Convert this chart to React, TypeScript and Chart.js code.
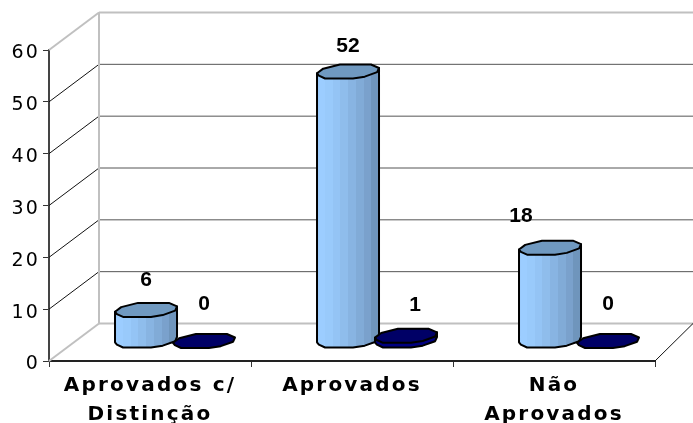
import React, { useEffect, useRef } from "react";
import { Chart, registerables } from "chart.js";

Chart.register(...registerables);

const categories: (string | string[])[] = [["Aprovados c/", "Distinção"], "Aprovados", ["Não", "Aprovados"]];
const seriesA = [6, 52, 18];
const seriesB = [0, 1, 0];
const yTicks = [0, 10, 20, 30, 40, 50, 60];

const depthX = 50;
const depthY = -37.5;
const barDepthX = 25;
const barDepthY = -13;
const barW = 62;
const barH = 14;
const labelGapA = [23, 18, 24];
const labelGapB = [30, 24, 30];
const labelShiftA = [0, 0, -29];
const labelShiftB = [0, 9, 0];

const frontEdge: [number, number][] = [[0, 0.37], [0.03, 0.2], [0.13, 0], [0.58, 0], [0.77, 0.13], [0.97, 0.45], [1, 0.75]];
const backEdge: [number, number][] = [[0.87, 1], [0.6, 1], [0.37, 1], [0.1, 0.7]];

const threeD = {
  id: "threeD",
  beforeDraw(chart: any) {
    chart.ctx.letterSpacing = "2.2px";
    const items = chart.scales.y.getLabelItems();
    if (!chart.$shifted) {
      items.forEach((it: any) => { it.options.translation[1] += 3.5; });
      chart.$shifted = true;
    }
  },
  beforeDatasetsDraw(chart: any) {
    const { ctx, scales, chartArea } = chart;
    const y = scales.y;
    const W = chart.width;
    const left = chartArea.left;
    const bx = left + depthX;
    ctx.save();
    yTicks.forEach((t) => {
      const py = y.getPixelForValue(t);
      const edge = t === 0 || t === 60;
      ctx.beginPath();
      ctx.moveTo(left, py);
      ctx.lineTo(bx, py + depthY);
      ctx.strokeStyle = edge ? "#c0c0c0" : "#111111";
      ctx.lineWidth = edge ? 2 : 1;
      ctx.stroke();
      ctx.beginPath();
      ctx.moveTo(bx, py + depthY);
      ctx.lineTo(W, py + depthY);
      ctx.strokeStyle = edge ? "#c0c0c0" : "#555555";
      ctx.lineWidth = edge ? 2 : 1;
      ctx.stroke();
    });
    ctx.beginPath();
    ctx.moveTo(bx, y.getPixelForValue(60) + depthY);
    ctx.lineTo(bx, y.getPixelForValue(0) + depthY);
    ctx.strokeStyle = "#c0c0c0";
    ctx.lineWidth = 2;
    ctx.stroke();
    const fy = y.getPixelForValue(0);
    ctx.beginPath();
    ctx.moveTo(chartArea.right, fy);
    ctx.lineTo(chartArea.right + 38, fy + depthY);
    ctx.strokeStyle = "#111111";
    ctx.lineWidth = 1;
    ctx.stroke();
    ctx.restore();
  },
  afterDatasetsDraw(chart: any) {
    const { ctx } = chart;
    const metaA = chart.getDatasetMeta(0).data;
    const metaB = chart.getDatasetMeta(1).data;
    const cyl = (el: any, dark: boolean) => {
      const x0 = el.x + barDepthX - barW / 2;
      const yb = el.base + barDepthY;
      const yt = el.y + barDepthY;
      const px = (p: [number, number], base: number): [number, number] => [x0 + p[0] * barW, base - p[1] * barH];
      ctx.save();
      ctx.lineJoin = "round";
      ctx.lineWidth = 2;
      ctx.strokeStyle = "#000000";
      if (yb - yt > 0.5) {
        ctx.beginPath();
        const s = px(frontEdge[0], yt);
        ctx.moveTo(s[0], s[1]);
        frontEdge.forEach((p) => ctx.lineTo(...px(p, yb)));
        const e = px(frontEdge[frontEdge.length - 1], yt);
        ctx.lineTo(e[0], e[1]);
        ctx.closePath();
        if (dark) {
          ctx.fillStyle = "#000080";
        } else {
          const g = ctx.createLinearGradient(x0, 0, x0 + barW, 0);
          const bands = ["#9ccdff", "#99caFb", "#94c4f5", "#8fbdec", "#88b4e2", "#81abd7", "#7aa1cc", "#6f95bc"];
          bands.forEach((c, i) => {
            g.addColorStop(i / bands.length, c);
            g.addColorStop((i + 1) / bands.length, c);
          });
          ctx.fillStyle = g;
        }
        ctx.fill();
        ctx.stroke();
      }
      ctx.beginPath();
      [...frontEdge, ...backEdge].forEach((p, i) => {
        const q = px(p, yt);
        if (i === 0) ctx.moveTo(q[0], q[1]);
        else ctx.lineTo(q[0], q[1]);
      });
      ctx.closePath();
      ctx.fillStyle = dark ? "#000066" : "#7099c0";
      ctx.fill();
      ctx.stroke();
      ctx.restore();
    };
    const label = (el: any, v: number, shift: number, gap: number) => {
      ctx.save();
      ctx.letterSpacing = "0px";
      ctx.fillStyle = "#000000";
      ctx.font = "bold 21px 'Liberation Sans'";
      ctx.textAlign = "center";
      ctx.textBaseline = "middle";
      ctx.fillText(String(v), el.x + barDepthX + shift, el.y + barDepthY - barH - gap);
      ctx.restore();
    };
    metaA.forEach((_: any, i: number) => {
      cyl(metaA[i], false);
      cyl(metaB[i], true);
    });
    metaA.forEach((_: any, i: number) => {
      label(metaA[i], seriesA[i], labelShiftA[i], labelGapA[i]);
      label(metaB[i], seriesB[i], labelShiftB[i], labelGapB[i]);
    });
  },
};

export default function App() {
  const ref = useRef<HTMLCanvasElement>(null);
  useEffect(() => {
    const chart = new Chart(ref.current as HTMLCanvasElement, {
      type: "bar",
      data: {
        labels: categories as any,
        datasets: [
          { label: "A", data: seriesA, backgroundColor: "transparent", categoryPercentage: 0.574, barPercentage: 1 },
          { label: "B", data: seriesB, backgroundColor: "transparent", categoryPercentage: 0.574, barPercentage: 1 },
        ],
      },
      options: {
        responsive: false,
        animation: false,
        devicePixelRatio: 1,
        layout: { padding: { top: 50, right: 38, left: 0, bottom: 0 } },
        plugins: { legend: { display: false }, title: { display: false }, tooltip: { enabled: false } },
        scales: {
          x: {
            afterFit: (s: any) => { s.height = 62; },
            grid: { drawOnChartArea: false, drawTicks: true, tickLength: 6, color: "#333333", offset: true, lineWidth: 1 },
            border: { color: "#222222", width: 2 },
            ticks: {
              maxRotation: 0,
              autoSkip: false,
              color: "#000000",
              padding: 5,
              font: { family: "'DejaVu Sans'", weight: "bold", size: 20, lineHeight: 1.42 },
            },
          },
          y: {
            min: 0,
            max: 60,
            afterFit: (s: any) => { s.width = 49; },
            grid: { drawOnChartArea: false, drawTicks: true, tickLength: 6, color: "#333333" },
            border: { color: "#444444", width: 2 },
            ticks: {
              stepSize: 10,
              color: "#000000",
              padding: 3,
              font: { family: "'DejaVu Sans'", size: 19 },
            },
          },
        },
      },
      plugins: [threeD],
    });
    return () => chart.destroy();
  }, []);
  return (
    <div style={{ position: "fixed", left: 0, top: 0, width: 693, height: 423, background: "#fff" }}>
      <canvas ref={ref} width={693} height={423} style={{ display: "block" }} />
    </div>
  );
}
